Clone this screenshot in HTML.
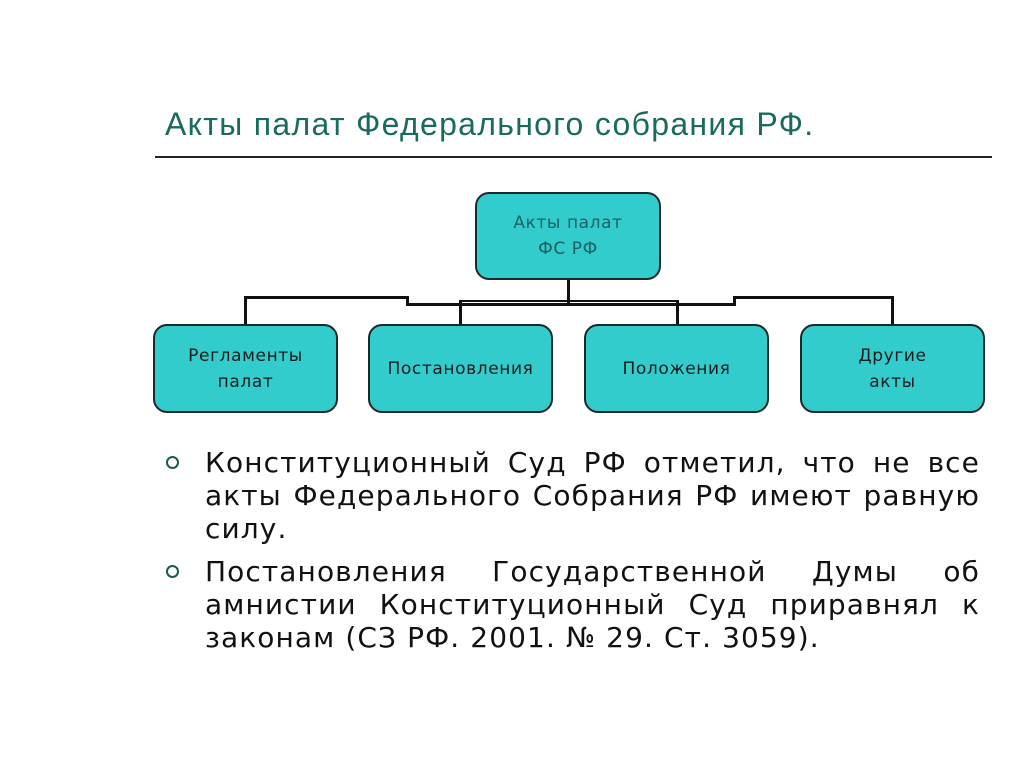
<!DOCTYPE html>
<html><head><meta charset="utf-8"><style>
body{margin:0;width:1024px;height:767px;background:#fff;position:relative;overflow:hidden;font-family:"DejaVu Sans",sans-serif}
.t{position:absolute;left:165px;top:106px;font-family:"Liberation Sans",sans-serif;font-size:32px;letter-spacing:1.3px;color:#1a6b5e;white-space:nowrap}
.rule{position:absolute;left:155px;top:156px;width:837px;height:2px;background:#222}
.b{position:absolute;box-sizing:border-box;background:#33cccc;border:2px solid #1a2a2a;border-radius:14px;display:flex;align-items:center;justify-content:center;text-align:center;font-size:17px;letter-spacing:0.6px;line-height:26px;color:#1a1a1a}
.l{position:absolute;background:#111}
.p{position:absolute;left:205px;width:775px;font-size:28px;letter-spacing:1.1px;color:#111;line-height:33px}
.p div{text-align:justify;text-align-last:justify;height:33px;white-space:nowrap}
.p div.n{text-align-last:left}
.dot{position:absolute;left:166px;width:9px;height:9px;border:2px solid #1a5a50;border-radius:50%}
</style></head><body>
<div class="t">Акты палат Федерального собрания РФ.</div>
<div class="rule"></div>
<div class="l" style="left:567px;top:279px;width:3px;height:27px"></div>
<div class="l" style="left:244px;top:296px;width:165px;height:3px"></div>
<div class="l" style="left:244px;top:296px;width:3px;height:29px"></div>
<div class="l" style="left:406px;top:296px;width:3px;height:10px"></div>
<div class="l" style="left:406px;top:303px;width:330px;height:3px"></div>
<div class="l" style="left:733px;top:296px;width:3px;height:10px"></div>
<div class="l" style="left:733px;top:296px;width:161px;height:3px"></div>
<div class="l" style="left:891px;top:296px;width:3px;height:29px"></div>
<div class="l" style="left:459px;top:300px;width:220px;height:2px"></div>
<div class="l" style="left:459px;top:300px;width:3px;height:25px"></div>
<div class="l" style="left:676px;top:300px;width:3px;height:25px"></div>
<div class="b" style="left:475px;top:192px;width:186px;height:88px;color:#1e6060">Акты палат<br>ФС РФ</div>
<div class="b" style="left:153px;top:324px;width:185px;height:89px">Регламенты<br>палат</div>
<div class="b" style="left:368px;top:324px;width:185px;height:89px">Постановления</div>
<div class="b" style="left:584px;top:324px;width:185px;height:89px">Положения</div>
<div class="b" style="left:800px;top:324px;width:185px;height:89px">Другие<br>акты</div>
<div class="dot" style="top:456px"></div>
<div class="dot" style="top:565px"></div>
<div class="p" style="top:446px">
<div>Конституционный Суд РФ отметил, что не все</div>
<div>акты Федерального Собрания РФ имеют равную</div>
<div class="n">силу.</div>
</div>
<div class="p" style="top:555px">
<div>Постановления Государственной Думы об</div>
<div>амнистии Конституционный Суд приравнял к</div>
<div class="n">законам (СЗ РФ. 2001. № 29. Ст. 3059).</div>
</div>
</body></html>
